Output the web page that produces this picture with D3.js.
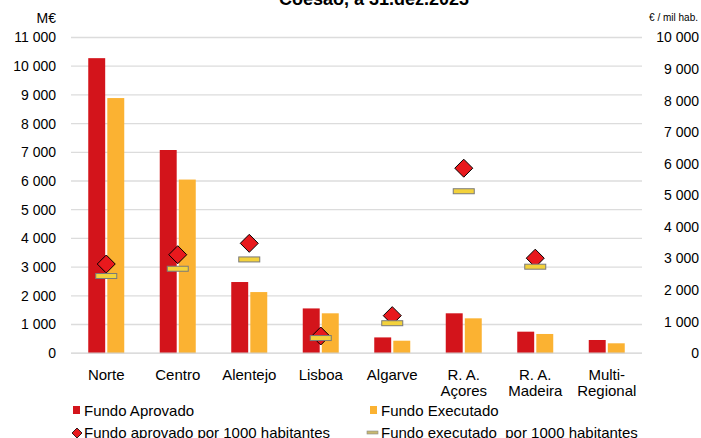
<!DOCTYPE html>
<html><head><meta charset="utf-8">
<script src="https://cdn.jsdelivr.net/npm/d3@7"></script>
<style>
html,body{margin:0;padding:0;background:#fff;}
svg{display:block;font-family:"Liberation Sans",Arial,sans-serif;}
</style></head>
<body>
<svg id="chart" width="701" height="438"></svg>
<script>
const categories = [["Norte"],["Centro"],["Alentejo"],["Lisboa"],["Algarve"],["R. A.","Açores"],["R. A.","Madeira"],["Multi-","Regional"]];
const approved = [10280, 7080, 2480, 1560, 550, 1390, 750, 460];
const executed = [8890, 6050, 2130, 1390, 435, 1215, 670, 345];
const approvedPerHab = [2825, 3120, 3480, 545, 1190, 5860, 3010, null];
const executedPerHab = [2445, 2675, 2970, 480, 950, 5130, 2740, null];
const leftTicks = d3.range(0, 11001, 1000);
const rightTicks = d3.range(0, 10001, 1000);
const seriesNames = ["Fundo Aprovado","Fundo Executado","Fundo aprovado por 1000 habitantes","Fundo executado  por 1000 habitantes"];
const colors = {red:"#d3141b", yellow:"#fbb232", diamond:"#e8191d", dash:"#f3d23c"};

const svg = d3.select("#chart");
const loc = d3.formatLocale({decimal:",", thousands:"\u00a0", grouping:[3], currency:["","€"]});
const fmt = loc.format(",d");

const idx = d3.range(categories.length);
const x = d3.scaleBand().domain(idx).range([70.5, 642.5]).padding(0);
const x1 = d3.scaleBand().domain([0,1]).range([0, 36]).paddingInner(0.111);
const yL = d3.scaleLinear().domain([0, 11000]).range([353.2, 37.5]);
const yR = d3.scaleLinear().domain([0, 10000]).range([353.2, 37.5]);

// title (partially cut at the top edge, as in the reference)
svg.append("text").attr("x", 374).attr("y", 5).attr("text-anchor","middle")
  .attr("font-size", 18).attr("font-weight","bold").text("Coesão, a 31.dez.2023");

// gridlines
svg.append("g").selectAll("line").data(leftTicks.filter(d=>d>0)).join("line")
  .attr("x1", 71).attr("x2", 642).attr("y1", d=>yL(d)).attr("y2", d=>yL(d))
  .attr("stroke", "#dcdcdc").attr("stroke-width", 1.3);

// left axis
const gL = svg.append("g").attr("transform","translate(56,0)")
  .call(d3.axisLeft(yL).tickValues(leftTicks).tickFormat(fmt).tickSize(0).tickPadding(0));
gL.select(".domain").remove();
gL.selectAll("text").attr("font-size", 14).attr("fill","#000").attr("font-family","Liberation Sans, Arial, sans-serif");

// right axis
const gR = svg.append("g").attr("transform","translate(699,0)")
  .call(d3.axisLeft(yR).tickValues(rightTicks).tickFormat(fmt).tickSize(0).tickPadding(0));
gR.select(".domain").remove();
gR.selectAll("text").attr("font-size", 14).attr("fill","#000").attr("font-family","Liberation Sans, Arial, sans-serif");

svg.append("text").attr("x", 56).attr("y", 23).attr("text-anchor","end").attr("font-size", 14).text("M€");
svg.append("text").attr("x", 698).attr("y", 21).attr("text-anchor","end").attr("font-size", 10).text("€ / mil hab.");

// bars
const barData = [approved, executed];
const barColors = [colors.red, colors.yellow];
barData.forEach((arr, s) => {
  svg.append("g").selectAll("rect").data(arr).join("rect")
    .attr("x", (d,i)=> x(i) + x.bandwidth()/2 - 18 + x1(s))
    .attr("width", x1.bandwidth())
    .attr("y", d=>yL(d)).attr("height", d=>yL(0)-yL(d))
    .attr("fill", barColors[s]);
});

// baseline
svg.append("line").attr("x1",71).attr("x2",642).attr("y1",yL(0)).attr("y2",yL(0))
  .attr("stroke","#d0d0d0").attr("stroke-width",1.3);

// category labels
const cl = svg.append("g").selectAll("text").data(categories).join("text")
  .attr("x", (d,i)=> x(i)+x.bandwidth()/2).attr("y", 379.5)
  .attr("text-anchor","middle").attr("font-size", 15);
cl.selectAll("tspan").data(d=>d).join("tspan")
  .attr("x", function(){ return this.parentNode.getAttribute("x"); })
  .attr("dy", (d,j)=> j===0 ? 0 : 16.5).text(d=>d);

// diamonds
const dsz = 9;
const diamondPath = (cx, cy, r) => `M${cx},${cy-r}L${cx+r},${cy}L${cx},${cy+r}L${cx-r},${cy}Z`;
svg.append("g").selectAll("path").data(idx.filter(i=>approvedPerHab[i]!=null)).join("path")
  .attr("d", i=> diamondPath(x(i)+x.bandwidth()/2, yR(approvedPerHab[i]), dsz))
  .attr("fill", colors.diamond).attr("stroke","#000").attr("stroke-width",1);

// dashes
svg.append("g").selectAll("rect").data(idx.filter(i=>executedPerHab[i]!=null)).join("rect")
  .attr("x", i=> x(i)+x.bandwidth()/2 - 10.5).attr("width", 21)
  .attr("y", i=> yR(executedPerHab[i]) - 2.5).attr("height", 5)
  .attr("fill", colors.dash).attr("stroke","#7a7a7a").attr("stroke-width",1);

// legend
const lg = svg.append("g").attr("font-size", 15);
lg.append("rect").attr("x",73).attr("y",406).attr("width",7).attr("height",8).attr("fill",colors.red);
lg.append("text").attr("x",84).attr("y",416).text(seriesNames[0]);
lg.append("rect").attr("x",370).attr("y",406).attr("width",7).attr("height",8).attr("fill",colors.yellow);
lg.append("text").attr("x",381).attr("y",416).text(seriesNames[1]);
lg.append("path").attr("d", diamondPath(77, 433, 5)).attr("fill",colors.diamond).attr("stroke","#000").attr("stroke-width",0.8);
lg.append("text").attr("x",84).attr("y",438).text(seriesNames[2]);
lg.append("rect").attr("x",367).attr("y",431).attr("width",11).attr("height",3).attr("fill","#c8b870").attr("stroke","#888").attr("stroke-width",0.6);
lg.append("text").attr("x",381).attr("y",438).style("white-space","pre").text(seriesNames[3]);
</script>
</body></html>
